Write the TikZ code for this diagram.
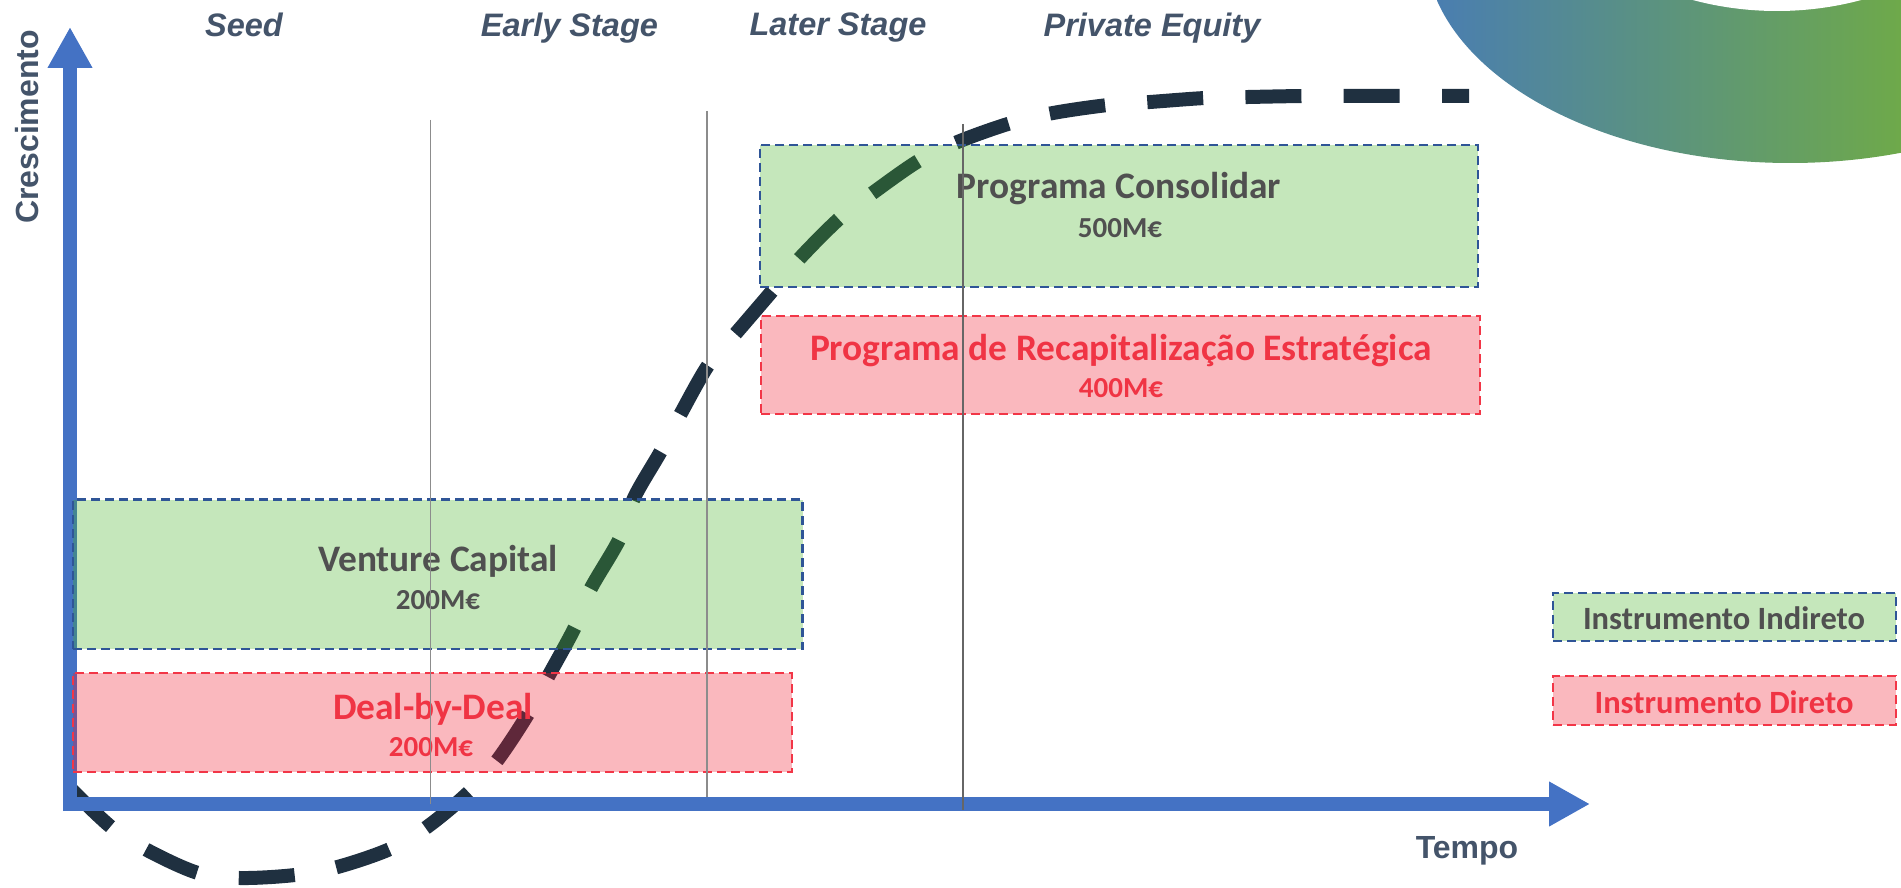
\documentclass[tikz,border=0pt]{standalone}
\usepackage{fontspec}
\setmainfont{Carlito}
\newfontfamily\hdrfont{Liberation Sans}
\usetikzlibrary{arrows.meta}
\definecolor{curvecol}{HTML}{1F3040}
\definecolor{axiscol}{HTML}{4472C4}
\definecolor{hdrcol}{HTML}{44546A}
\definecolor{greyt}{HTML}{505050}
\definecolor{redt}{HTML}{F03444}
\definecolor{gfill}{RGB}{68,177,35}
\definecolor{rfill}{RGB}{238,25,45}
\definecolor{gborder}{HTML}{2F5597}
\definecolor{rborder}{HTML}{F23647}
\definecolor{ringa}{HTML}{4A7EB0}
\definecolor{ringb}{HTML}{6EA94A}
\tikzset{
  axisline/.style={draw=axiscol,line width=14pt,-{Triangle[length=41pt,width=42pt]}},
  hdr/.style={font=\hdrfont\bfseries\itshape\fontsize{32.5}{36}\selectfont,text=hdrcol,inner sep=0pt},
  axlabel/.style={font=\hdrfont\bfseries\fontsize{32}{36}\selectfont,text=hdrcol,inner sep=0pt},
  box/.style={rectangle,inner sep=0pt,outer sep=0pt,line width=2.4pt,dash pattern=on 9pt off 5pt,fill opacity=.31,draw opacity=1},
  greenbox/.style={box,draw=gborder,fill=gfill},
  redbox/.style={box,draw=rborder,fill=rfill},
  gtitle/.style={font=\bfseries\fontsize{37.4}{40}\selectfont,text=greyt,inner sep=0pt},
  rtitle/.style={font=\bfseries\fontsize{37.4}{40}\selectfont,text=redt,inner sep=0pt},
  gamount/.style={font=\bfseries\fontsize{29}{32}\selectfont,text=greyt,inner sep=0pt},
  ramount/.style={font=\bfseries\fontsize{29}{32}\selectfont,text=redt,inner sep=0pt},
  glegend/.style={font=\bfseries\fontsize{32.5}{36}\selectfont,text=greyt,inner sep=0pt},
  rlegend/.style={font=\bfseries\fontsize{32.5}{36}\selectfont,text=redt,inner sep=0pt},
  gridline/.style={draw=#1,line width=1.4pt},
}
\begin{document}
\begin{tikzpicture}[x=1pt,y=-1pt]
\useasboundingbox (0,0) rectangle (1901,888);
% ring
\begin{scope}
  \clip (0,0) rectangle (1901,888);
  \begin{scope}
    \clip (1790,-55) ellipse [x radius=365, y radius=218];
    \shade[left color=ringa,right color=ringb,shading angle=90] (1437,-2) rectangle (1901,170);
  \end{scope}
  \fill[white] (1777,-315) circle [radius=326];
\end{scope}
% curve
\draw[curvecol,line width=14pt,dash pattern=on 56pt off 42.3pt,line cap=butt]
  plot[smooth,tension=0.55] coordinates {
  (70,788) (111,827) (147,850) (198,873) (240,878) (295,875) (337.5,867) (390,849)
  (427,827) (469,792) (497.5,760) (528,714) (549,675) (575,627) (590,590) (620,538)
  (634,498) (661,451) (680,415) (709,364) (737,332) (773,290) (800,258) (840,218)
  (874,192) (920,160) (960,141) (1011,123) (1053,113) (1108,105) (1150,102) (1205,98)
  (1248,97) (1303,96) (1345,96) (1402,96) (1469,96)};
% axes
\coordinate (origX) at (63,804);
\coordinate (endX) at (1590,804);
\coordinate (origY) at (70,811);
\coordinate (endY) at (70,27);
\draw[axisline] (origY) -- (endY);
\draw[axisline] (origX) -- (endX);
% boxes
\node[greenbox,minimum width=718pt,minimum height=142pt] (cons) at (1119,216) {};
\node[redbox,minimum width=719pt,minimum height=98pt] (recap) at (1120.5,365) {};
\node[greenbox,minimum width=729.5pt,minimum height=149.5pt] (vc) at (437.75,574.25) {};
\node[redbox,minimum width=719pt,minimum height=99pt] (deal) at (432.5,722.5) {};
\node[greenbox,minimum width=343pt,minimum height=48pt] (legG) at (1724.5,617) {};
\node[redbox,minimum width=343pt,minimum height=49pt] (legR) at (1724.5,700.5) {};
% box labels
\node[gtitle] (consT) at (1119,189) {Programa Consolidar};
\node[gamount] (consA) at (1120,228) {500M€};
\node[rtitle] (recapT) at (1121,351) {Programa de Recapitalização Estratégica};
\node[ramount] (recapA) at (1121,388) {400M€};
\node[gtitle] (vcT) at (438,561) {Venture Capital};
\node[gamount] (vcA) at (438,600) {200M€};
\node[rtitle] (dealT) at (433,709) {Deal-by-Deal};
\node[ramount] (dealA) at (431,747) {200M€};
\node[glegend] (legGT) at (1724,618) {Instrumento Indireto};
\node[rlegend] (legRT) at (1724,702) {Instrumento Direto};
% stage lines
\coordinate (l1a) at (430.5,120); \coordinate (l1b) at (430.5,804);
\coordinate (l2a) at (707,111);   \coordinate (l2b) at (707,797);
\coordinate (l3a) at (963,124);   \coordinate (l3b) at (963,810);
\draw[gridline=black!45] (l1a) -- (l1b);
\draw[gridline=black!45] (l2a) -- (l2b);
\draw[gridline=black!60] (l3a) -- (l3b);
% headers
\node[hdr] (seed) at (244,25) {Seed};
\node[hdr] (early) at (569.5,28) {Early Stage};
\node[hdr] (later) at (838,28) {Later Stage};
\node[hdr] (pe) at (1152,28) {Private Equity};
\node[axlabel,rotate=90] (yl) at (27,127) {Crescimento};
\node[axlabel] (xl) at (1467,851) {Tempo};
\end{tikzpicture}
\end{document}
